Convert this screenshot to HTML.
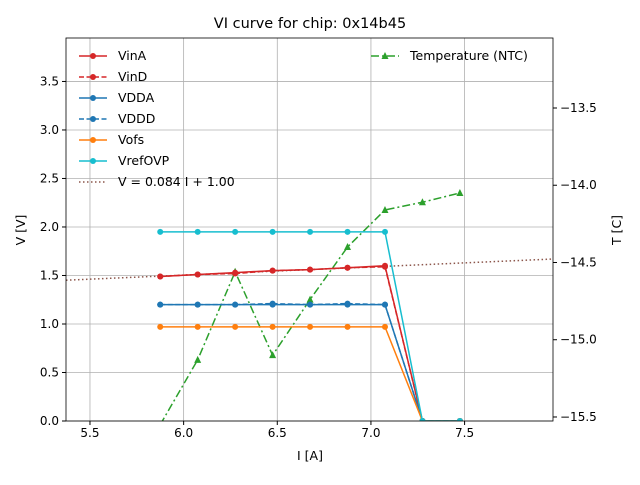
<!DOCTYPE html>
<html><head><meta charset="utf-8"><style>
body{margin:0;background:#fff;font-family:"Liberation Sans","DejaVu Sans",sans-serif;}
svg text{font-family:"DejaVu Sans","Liberation Sans",sans-serif;}
</style></head><body>
<svg id="chart" width="640" height="480" xmlns="http://www.w3.org/2000/svg"></svg>
<script>
const currents=[5.875,6.075,6.275,6.475,6.675,6.875,7.075,7.275,7.475];
const vinA=[1.49,1.51,1.53,1.55,1.56,1.58,1.60,0,0];
const vinD=[1.49,1.51,1.52,1.55,1.56,1.58,1.59,0,0];
const vdda=[1.20,1.20,1.20,1.20,1.20,1.20,1.20,0,0];
const vddd=[1.20,1.20,1.20,1.21,1.20,1.21,1.20,0,0];
const vofs=[0.97,0.97,0.97,0.97,0.97,0.97,0.97,0,0];
const vrefovp=[1.95,1.95,1.95,1.95,1.95,1.95,1.95,0,0];
const temperature=[-15.55,-15.13,-14.56,-15.1,-14.74,-14.4,-14.16,-14.11,-14.05];
const fitSlope=0.084, fitIntercept=1.00;
const xTicks=[5.5,6.0,6.5,7.0,7.5];
const yTicks=[0,0.5,1.0,1.5,2.0,2.5,3.0,3.5];
const tTicks=[-15.5,-15.0,-14.5,-14.0,-13.5];

const L=66,R=553,T=38,B=421;
const xMin=5.372,xMax=7.972,yMin=0,yMax=3.948,tMin=-15.526,tMax=-13.047;
const X=v=>L+(v-xMin)/(xMax-xMin)*(R-L);
const Y=v=>B-(v-yMin)/(yMax-yMin)*(B-T);
const TY=v=>B-(v-tMin)/(tMax-tMin)*(B-T);
const svg=document.getElementById('chart');
const NS='http://www.w3.org/2000/svg';
function el(tag,attrs,parent){const e=document.createElementNS(NS,tag);for(const k in attrs)e.setAttribute(k,attrs[k]);(parent||svg).appendChild(e);return e;}
const defs=el('defs',{});const cp=el('clipPath',{id:'clip'},defs);el('rect',{x:L,y:T,width:R-L,height:B-T},cp);

xTicks.forEach(v=>{const g=el('line',{x1:X(v),x2:X(v),y1:T,y2:B,stroke:'#b0b0b0','stroke-width':0.8});

});
yTicks.forEach(v=>{const g=el('line',{x1:L,x2:R,y1:Y(v),y2:Y(v),stroke:'#b0b0b0','stroke-width':0.8});

});

const plot=el('g',{'clip-path':'url(#clip)'});
function series(vals,color,dash,marker,name,yfn){
 const g=el('g',{},plot);
 
 
 const pts=currents.map((c,i)=>X(c)+','+yfn(vals[i])).join(' ');
 el('polyline',{points:pts,fill:'none',stroke:color,'stroke-width':1.5,'stroke-dasharray':dash||''},g);
 currents.forEach((c,i)=>{
  if(marker==='tri'){const x=X(c),y=yfn(vals[i]);el('polygon',{points:`${x},${y-4} ${x-3.5},${y+3} ${x+3.5},${y+3}`,fill:color},g);}
  else el('circle',{cx:X(c),cy:yfn(vals[i]),r:3,fill:color},g);
 });
}
const fit=el('line',{x1:X(xMin),y1:Y(fitSlope*xMin+fitIntercept),x2:X(xMax),y2:Y(fitSlope*xMax+fitIntercept),stroke:'#8c564b','stroke-width':1.5,'stroke-dasharray':'1.5,2.5'},plot);


series(temperature,'#2ca02c','8,3,2,3','tri','temperature-series',TY);
series(vinA,'#d62728','','c','vina-series',Y);
series(vinD,'#d62728','5,2.5','c','vind-series',Y);
series(vdda,'#1f77b4','','c','vdda-series',Y);
series(vddd,'#1f77b4','5,2.5','c','vddd-series',Y);
series(vofs,'#ff7f0e','','c','vofs-series',Y);
series(vrefovp,'#17becf','','c','vrefovp-series',Y);

el('rect',{x:L,y:T,width:R-L,height:B-T,fill:'none',stroke:'#000','stroke-width':0.8});
xTicks.forEach(v=>{el('line',{x1:X(v),x2:X(v),y1:B,y2:B+4,stroke:'#000'});
const t=el('text',{x:X(v),y:B+16,'font-size':12,'text-anchor':'middle'});t.textContent=v.toFixed(1);

});
yTicks.forEach(v=>{el('line',{x1:L-4,x2:L,y1:Y(v),y2:Y(v),stroke:'#000'});
const t=el('text',{x:L-7,y:Y(v)+4,'font-size':12,'text-anchor':'end'});t.textContent=v.toFixed(1);

});
tTicks.forEach(v=>{el('line',{x1:R,x2:R+4,y1:TY(v),y2:TY(v),stroke:'#000'});
const t=el('text',{x:R+7,y:TY(v)+4,'font-size':12});t.textContent='\u2212'+Math.abs(v).toFixed(1);

});
</script>
<svg width="640" height="480" style="position:absolute;left:0;top:0" xmlns="http://www.w3.org/2000/svg">
<text x="310" y="28" font-size="14.5" text-anchor="middle">VI curve for chip: 0x14b45</text>
<text x="310" y="460" font-size="12.5" text-anchor="middle">I [A]</text>
<text transform="translate(25,230) rotate(-90)" font-size="12.5" text-anchor="middle">V [V]</text>
<text transform="translate(621,230) rotate(-90)" font-size="12.5" text-anchor="middle">T [C]</text>
<g font-size="12.5">
 <g><line x1="79" x2="107" y1="56" y2="56" stroke="#d62728" stroke-width="1.5"/><circle cx="93" cy="56" r="3" fill="#d62728"/><text x="118" y="60">VinA</text></g>
 <g><line x1="79" x2="107" y1="77" y2="77" stroke="#d62728" stroke-width="1.5" stroke-dasharray="5,2.5"/><circle cx="93" cy="77" r="3" fill="#d62728"/><text x="118" y="81">VinD</text></g>
 <g><line x1="79" x2="107" y1="98" y2="98" stroke="#1f77b4" stroke-width="1.5"/><circle cx="93" cy="98" r="3" fill="#1f77b4"/><text x="118" y="102">VDDA</text></g>
 <g><line x1="79" x2="107" y1="119" y2="119" stroke="#1f77b4" stroke-width="1.5" stroke-dasharray="5,2.5"/><circle cx="93" cy="119" r="3" fill="#1f77b4"/><text x="118" y="123">VDDD</text></g>
 <g><line x1="79" x2="107" y1="140" y2="140" stroke="#ff7f0e" stroke-width="1.5"/><circle cx="93" cy="140" r="3" fill="#ff7f0e"/><text x="118" y="144">Vofs</text></g>
 <g><line x1="79" x2="107" y1="161" y2="161" stroke="#17becf" stroke-width="1.5"/><circle cx="93" cy="161" r="3" fill="#17becf"/><text x="118" y="165">VrefOVP</text></g>
 <g><line x1="79" x2="107" y1="182" y2="182" stroke="#8c564b" stroke-width="1.5" stroke-dasharray="1.5,2.5"/><text x="118" y="186">V = 0.084 I + 1.00</text></g>
</g>
<g font-size="12.5">
 <line x1="371" x2="399" y1="56" y2="56" stroke="#2ca02c" stroke-width="1.5" stroke-dasharray="8,3,2,3"/><polygon points="385,52 381.5,59 388.5,59" fill="#2ca02c"/><text x="410" y="60">Temperature (NTC)</text>
</g>
</svg>
</body></html>
